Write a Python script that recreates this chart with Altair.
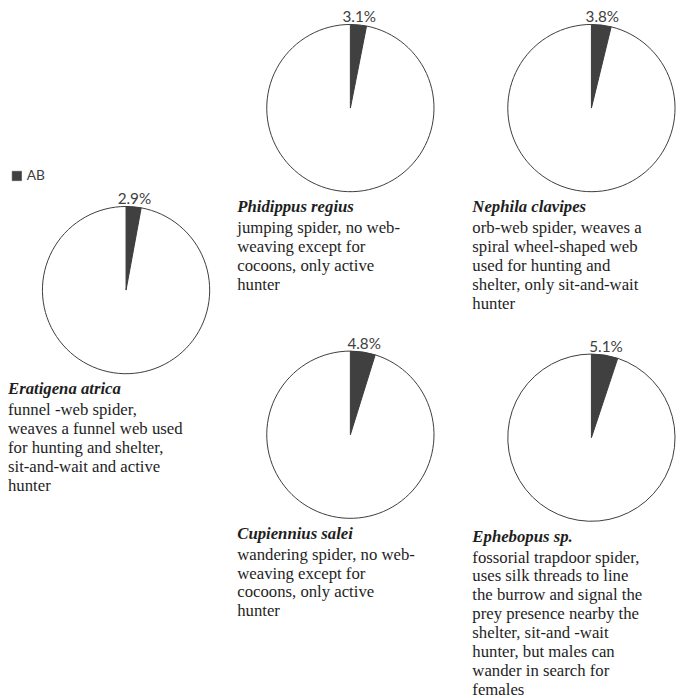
import altair as alt
import pandas as pd

species = ["Eratigena atrica", "Phidippus regius", "Nephila clavipes",
           "Cupiennius salei", "Ephebopus sp."]
ab_percent = [2.9, 3.1, 3.8, 4.8, 5.1]
descriptions = [
    ["funnel -web spider,", "weaves a funnel web used", "for hunting and shelter,",
     "sit-and-wait and active", "hunter"],
    ["jumping  spider, no web-", "weaving except for", "cocoons, only active", "hunter"],
    ["orb-web spider, weaves a", "spiral wheel-shaped web", "used for hunting and",
     "shelter, only sit-and-wait", "hunter"],
    ["wandering spider, no web-", "weaving except for", "cocoons, only active", "hunter"],
    ["fossorial trapdoor spider,", "uses silk threads to line", "the burrow and signal the",
     "prey presence nearby the", "shelter, sit-and -wait", "hunter, but males  can",
     "wander in search for", "females"],
]
categories = ["AB", "other"]

color_scale = alt.Scale(domain=categories, range=["#404040", "#ffffff"])
TEXT_COLOR = "#1e1e1e"


def pie(i, dx):
    df = pd.DataFrame({
        "category": categories,
        "value": [ab_percent[i], round(100 - ab_percent[i], 1)],
        "order": [0, 1],
        "label": [f"{ab_percent[i]}%", ""],
    })
    base = alt.Chart(df).encode(
        theta=alt.Theta("value:Q", stack=True),
        order=alt.Order("order:Q"),
    )
    arc = base.mark_arc(outerRadius=85, stroke="#3a3a3a", strokeWidth=1).encode(
        color=alt.Color(
            "category:N", scale=color_scale,
            legend=alt.Legend(
                values=["AB"], title=None, orient="none", legendX=-33, legendY=147,
                symbolType="square", symbolSize=90, symbolStrokeColor="#404040",
                symbolStrokeWidth=0.6, labelFont="Lato", labelFontSize=14,
                labelColor="#404040", labelOffset=3,
            ),
        )
    )
    txt = base.mark_text(radius=93, font="Lato", fontSize=15.5, color="#404040").encode(
        text="label:N", detail="category:N"
    ).transform_filter(alt.datum.category == "AB")
    return alt.layer(arc, txt).properties(
        width=170, height=170,
        title=alt.TitleParams(
            text=species[i], subtitle=descriptions[i], orient="bottom", anchor="start",
            frame="group", dx=dx, offset=6,
            font="Liberation Serif", fontSize=17, fontStyle="italic", fontWeight="bold",
            color=TEXT_COLOR,
            subtitleFont="Liberation Serif", subtitleFontSize=17, subtitleColor=TEXT_COLOR,
            subtitleLineHeight=19.2, subtitlePadding=4,
        ),
    )


# empty band above the first pie so that it sits between the two rows
spacer = alt.Chart(pd.DataFrame({"category": ["AB"]})).mark_point(opacity=0).properties(
    width=10, height=170
)

col1 = alt.vconcat(spacer, pie(0, -35), spacing=0)
col2 = alt.vconcat(pie(1, -30), pie(3, -30), spacing=45)
col3 = alt.vconcat(pie(2, -36), pie(4, -36), spacing=29)

chart = alt.hconcat(
    col1, alt.hconcat(col2, col3, spacing=37), spacing=26
).properties(
    padding={"top": -4, "left": 0, "right": 0, "bottom": 0}, background="white"
).configure_view(stroke=None)

chart.save("out.html", embed_options={"renderer": "svg", "actions": False})
